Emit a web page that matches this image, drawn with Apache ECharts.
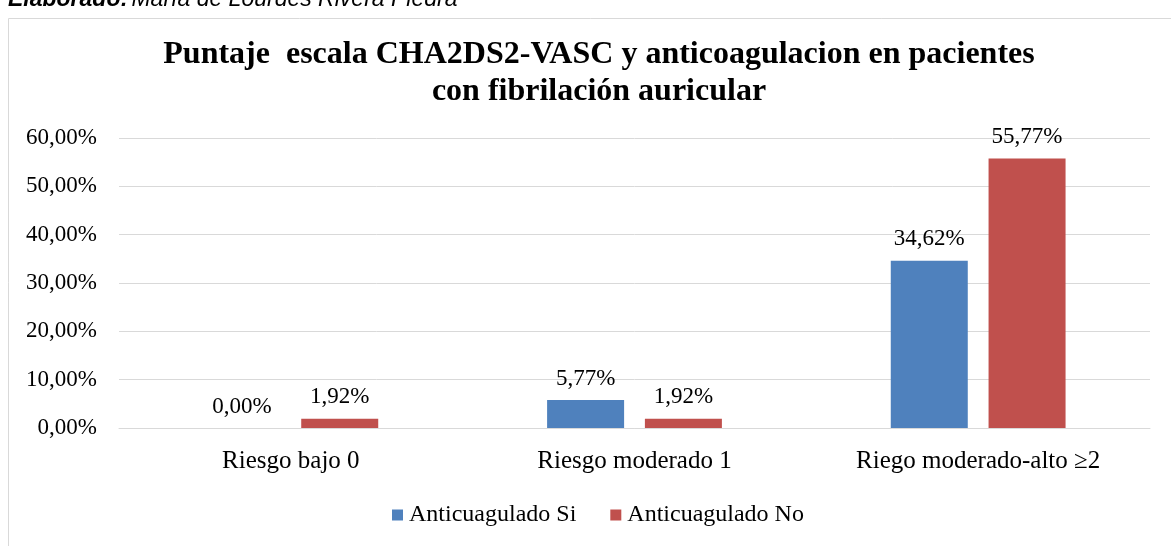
<!DOCTYPE html>
<html>
<head>
<meta charset="utf-8">
<script src="https://cdn.jsdelivr.net/npm/echarts@6/dist/echarts.min.js"></script>
<style>
  html, body { margin: 0; padding: 0; background: #fff; }
  #chart { width: 1171px; height: 546px; }
</style>
</head>
<body>
<div id="chart"></div>
<script>
// datos
const categories = ['Riesgo bajo 0', 'Riesgo moderado 1', 'Riego moderado-alto \u22652']
const anticoaguladoSi = [0.00, 5.77, 34.62]
const anticoaguladoNo = [1.92, 1.92, 55.77]
const seriesNames = ['Anticuagulado Si', 'Anticuagulado No']

const serif = '"Liberation Serif", "Times New Roman", serif'
const sans = '"Liberation Sans", Arial, sans-serif'
const fmt = v => v.toFixed(2).replace('.', ',') + '%'

const chart = echarts.init(document.getElementById('chart'))

const barLabel = {
  show: true,
  position: 'top',
  distance: 10,
  fontFamily: serif,
  fontSize: 23,
  color: '#000',
  formatter: p => fmt(p.value)
}

chart.setOption({
  animation: false,
  color: ['#4F81BD', '#C0504D'],
  title: {
    text: 'Puntaje  escala CHA2DS2-VASC y anticoagulacion en pacientes\ncon fibrilación auricular',
    left: 594,
    textAlign: 'center',
    top: 31,
    textStyle: {
      fontFamily: serif,
      fontWeight: 'bold',
      fontSize: 32,
      lineHeight: 37,
      color: '#000'
    }
  },
  graphic: [
    {
      type: 'rect',
      shape: { x: 8.5, y: 18.5, width: 1200, height: 600 },
      style: { fill: 'none', stroke: '#d9d9d9', lineWidth: 1 },
      silent: true
    },
    {
      type: 'text',
      x: 8,
      y: 11,
      style: {
        text: '{b|Elaborado:} {i|María de Lourdes Rivera Piedra}',
        verticalAlign: 'bottom',
        rich: {
          b: { fontFamily: sans, fontWeight: 'bold', fontStyle: 'italic', fontSize: 23, fill: '#000' },
          i: { fontFamily: sans, fontStyle: 'italic', fontSize: 23, fill: '#000' }
        }
      }
    }
  ],
  legend: {
    data: seriesNames,
    bottom: 14,
    left: 387,
    itemWidth: 11,
    itemHeight: 11,
    itemGap: 34,
    icon: 'rect',
    textStyle: { fontFamily: serif, fontSize: 24, color: '#000', padding: [0, 0, 0, 1] }
  },
  grid: { left: 119, right: 21, top: 138, bottom: 118 },
  xAxis: {
    type: 'category',
    data: categories,
    axisLine: { lineStyle: { color: '#d9d9d9', width: 1 } },
    axisTick: { show: false },
    axisLabel: { fontFamily: serif, fontSize: 25, color: '#000', margin: 21 }
  },
  yAxis: {
    type: 'value',
    min: 0,
    max: 60,
    interval: 10,
    axisLine: { show: false },
    axisTick: { show: false },
    splitLine: { lineStyle: { color: '#d9d9d9', width: 1 } },
    axisLabel: {
      fontFamily: serif,
      fontSize: 23,
      color: '#000',
      margin: 22,
      formatter: v => v.toFixed(2).replace('.', ',') + '%'
    }
  },
  series: [
    {
      name: seriesNames[0],
      type: 'bar',
      data: anticoaguladoSi,
      barWidth: 77,
      barGap: '27%',
      label: barLabel
    },
    {
      name: seriesNames[1],
      type: 'bar',
      data: anticoaguladoNo,
      barWidth: 77,
      barGap: '27%',
      label: barLabel
    }
  ]
})
</script>
</body>
</html>
